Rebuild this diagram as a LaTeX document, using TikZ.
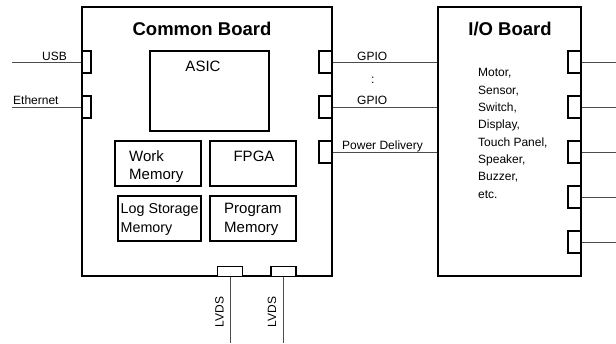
\documentclass[tikz,border=0pt]{standalone}
\usepackage{fontspec}
\setmainfont{Liberation Sans}
\begin{document}
\begin{tikzpicture}[x=1pt,y=-1pt,
  board/.style={draw,line width=1.7pt,inner sep=0,minimum width=#1},
  chip/.style={draw,line width=1.5pt,inner sep=0},
  port/.style={draw,line width=1.5pt,fill=white,inner sep=0},
  wire/.style={draw=black!70,line width=0.8pt},
  lbl/.style={font=\fontsize{12}{14}\selectfont,inner sep=0,anchor=base west},
  ttl/.style={font=\fontsize{18.5}{20}\selectfont\bfseries,inner sep=0,anchor=base},
  ctxt/.style={font=\fontsize{15}{18}\selectfont,inner sep=0}]
\useasboundingbox (0,0) rectangle (616,343);
% boards
\node[board=250pt,minimum height=269pt] (cb) at (207,141.5) {};
\node[board=143pt,minimum height=269pt] (iob) at (509.5,141.5) {};
\node[ttl] (cbt) at (202,35) {Common Board};
\node[ttl] (iobt) at (510,35) {I/O Board};
% chips
\node[chip,minimum width=119pt,minimum height=80pt] (asic) at (209.5,91) {};
\node[ctxt,anchor=base] (asict) at (203,71) {ASIC};
\node[chip,minimum width=86pt,minimum height=45pt] (wm) at (158,163.5) {};
\node[ctxt,anchor=base west,align=left] (wmt) at (129,161) {Work};
\node[ctxt,anchor=base west] (wmt2) at (129,179) {Memory};
\node[chip,minimum width=86pt,minimum height=45pt] (fpga) at (253,163.5) {};
\node[ctxt,anchor=base] (fpgat) at (254,161) {FPGA};
\node[chip,minimum width=83pt,minimum height=45pt] (lsm) at (159.5,218.5) {};
\node[ctxt,anchor=base west,font=\fontsize{14.3}{17}\selectfont] (lsmt) at (120.5,213) {Log Storage};
\node[ctxt,anchor=base west,font=\fontsize{14.3}{17}\selectfont] (lsmt2) at (120.5,232) {Memory};
\node[chip,minimum width=86pt,minimum height=45pt] (pm) at (253,218.5) {};
\node[ctxt,anchor=base west] (pmt) at (224,213) {Program};
\node[ctxt,anchor=base west] (pmt2) at (224,232) {Memory};
% left ports of common board
\node[port,minimum width=9pt,minimum height=22pt] (pl1) at (86.5,62) {};
\node[port,minimum width=9pt,minimum height=22pt] (pl2) at (86.5,107) {};
% right ports of common board
\node[port,minimum width=13pt,minimum height=22pt] (pr1) at (325.5,62) {};
\node[port,minimum width=13pt,minimum height=22pt] (pr2) at (325.5,107) {};
\node[port,minimum width=13pt,minimum height=22pt] (pr3) at (325.5,152) {};
% bottom ports
\node[port,minimum width=25pt,minimum height=10pt] (pb1) at (230,271.5) {};
\node[port,minimum width=25pt,minimum height=10pt] (pb2) at (283.5,271.5) {};
% I/O board ports
\foreach \i/\yy in {1/62,2/107,3/152,4/197,5/242}{
  \node[port,minimum width=13pt,minimum height=22pt] (io\i) at (574.5,\yy) {};
}
% free ends
\coordinate (usbend) at (12,62);
\coordinate (ethend) at (12,107);
\coordinate (lv1end) at (230,343);
\coordinate (lv2end) at (283.5,343);
\foreach \i in {1,...,5}{ \coordinate (ioend\i) at (616,0 |- io\i); }
% wires
\draw[wire] (usbend) -- (pl1.west);
\draw[wire] (ethend) -- (pl2.west);
\draw[wire] (pr1.east) -- (pr1.east -| iob.west);
\draw[wire] (pr2.east) -- (pr2.east -| iob.west);
\draw[wire] (pr3.east) -- (pr3.east -| iob.west);
\draw[wire] (pb1.south) -- (lv1end);
\draw[wire] (pb2.south) -- (lv2end);
\foreach \i in {1,...,5}{ \draw[wire] (io\i.east) -- (ioend\i); }
% labels
\node[lbl] (usbl) at (42,60.5) {USB};
\node[lbl] (ethl) at (13,104.5) {Ethernet};
\node[lbl] (g1) at (357,60) {GPIO};
\node[lbl] (dots) at (371,83) {:};
\node[lbl] (g2) at (357,104) {GPIO};
\node[lbl] (pd) at (342,149) {Power Delivery};
\node[lbl,rotate=90] (lv1) at (223.5,327.5) {LVDS};
\node[lbl,rotate=90] (lv2) at (276,327.5) {LVDS};
% I/O list
\node[lbl,align=left,anchor=north west,font=\fontsize{12}{17.3}\selectfont] (iolist) at (478,68.5)
  {Motor,\\Sensor,\\Switch,\\Display,\\Touch Panel,\\Speaker,\\Buzzer,\\etc.};
\end{tikzpicture}
\end{document}
